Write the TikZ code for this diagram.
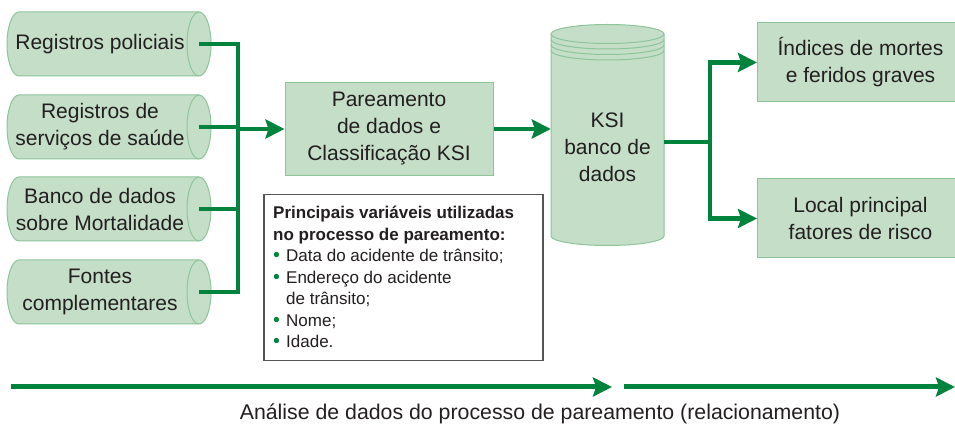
\documentclass[tikz,border=0pt]{standalone}
\usepackage{fontspec}
\setmainfont{Liberation Sans}
\usetikzlibrary{arrows.meta}
\definecolor{garrow}{HTML}{00843D}
\definecolor{gfill}{HTML}{C5DEC8}
\definecolor{gline}{HTML}{8CC59A}
\definecolor{txt}{HTML}{231F20}
\definecolor{notebd}{HTML}{555555}
\newcommand{\gbul}{\makebox[13pt][l]{\textcolor{garrow}{\scalebox{1.15}{\textbullet}}}}
\begin{document}
\begin{tikzpicture}[x=1pt,y=1pt,
  shapefill/.style={fill=gfill, draw=gline, line width=1pt},
  flow/.style={draw=garrow, line width=4.5pt},
  tip/.tip={Stealth[length=19pt,width=19pt,inset=3pt]},
  flowarrow/.style={flow, -tip},
  lbl/.style={text=txt, align=center, font=\fontsize{21}{27}\selectfont, inner sep=0pt},
]
\useasboundingbox (0,0) rectangle (955,425);
\clip (0,0) rectangle (955,425);

% source cylinders
\foreach \n/\cy/\t in {p/381/{Registros policiais}, s/298/{Registros de\\serviços de saúde}, m/216/{Banco de dados\\sobre Mortalidade}, f/133/{Fontes\\complementares}} {
  \path[shapefill] (19,\cy+32) -- (199,\cy+32) arc[start angle=90,end angle=-90,x radius=12,y radius=32] -- (19,\cy-32) arc[start angle=270,end angle=90,x radius=12,y radius=32] -- cycle;
  \draw[gline, line width=1pt] (199,\cy+32) arc[start angle=90,end angle=270,x radius=12,y radius=32];
  \node[lbl] (src\n) at (100,\cy) {\t};
  \coordinate (out\n) at (199,\cy);
}
\coordinate (bus) at (238,0);
\coordinate (bustwo) at (710,0);

% matching box
\node[shapefill, lbl, minimum width=208pt, minimum height=93pt] (pare) at (389,296) {Pareamento\\de dados e\\Classificação KSI};

% KSI cylinder
\path[shapefill] (551,391) -- (551,189) arc[start angle=180,end angle=360,x radius=56.5,y radius=9.5] -- (664,391) arc[start angle=0,end angle=180,x radius=56.5,y radius=9.5] -- cycle;
\foreach \d in {0,5.5,11,16.5} {
  \draw[gline, line width=1pt] (551,391-\d) arc[start angle=180,end angle=360,x radius=56.5,y radius=9.5];
}
\node[inner sep=0pt, minimum width=113pt, minimum height=200pt] (ksi) at (607.5,290) {};
\node[lbl] (ksitext) at (607.5,278) {KSI\\banco de\\dados};
\coordinate (ksiout) at (664,283);

% result boxes
\node[shapefill, lbl, minimum width=206pt, minimum height=79pt, anchor=west] (idx) at (757,362.5) {Índices de mortes\\e feridos graves};
\node[shapefill, lbl, minimum width=206pt, minimum height=79pt, anchor=west] (loc) at (757,206.5) {Local principal\\fatores de risco};

% note box
\node[draw=notebd, line width=1.5pt, fill=white, minimum width=279pt, minimum height=166pt, anchor=north west, inner sep=0pt] (note) at (263,231) {};
\node[anchor=north west, inner sep=0pt, align=left, text=txt, font=\fontsize{17}{21.5}\selectfont] (notetext) at (273,219) {%
\textbf{Principais variáveis utilizadas}\\
\textbf{no processo de pareamento:}\\
\gbul Data do acidente de trânsito;\\
\gbul Endereço do acidente\\
\hspace*{13pt}de trânsito;\\
\gbul Nome;\\
\gbul Idade.};

% connectors
\draw[flow] (outp) -- (bus|-outp) -- (bus|-outf) -- (outf);
\draw[flow] (outs) -- (bus|-outs);
\draw[flow] (outm) -- (bus|-outm);
\draw[flowarrow] (bus|-pare.west) -- (pare.west);
\draw[flowarrow] (pare.east) -- (pare.east-|ksi.west);
\draw[flow] (ksiout) -- (bustwo|-ksiout);
\draw[flow, tip-tip] (idx.west) -- (bustwo|-idx.west) -- (bustwo|-loc.west) -- (loc.west);

% timeline arrows
\coordinate (a0) at (11,38);
\coordinate (a1) at (612,38);
\coordinate (a2) at (624,38);
\coordinate (a3) at (955,38);
\draw[flowarrow, line width=5pt] (a0) -- (a1);
\draw[flowarrow, line width=5pt] (a2) -- (a3);
\node[anchor=base, text=txt, font=\fontsize{21.3}{25}\selectfont, inner sep=0pt] (caption) at (540,5) {Análise de dados do processo de pareamento (relacionamento)};
\end{tikzpicture}
\end{document}
